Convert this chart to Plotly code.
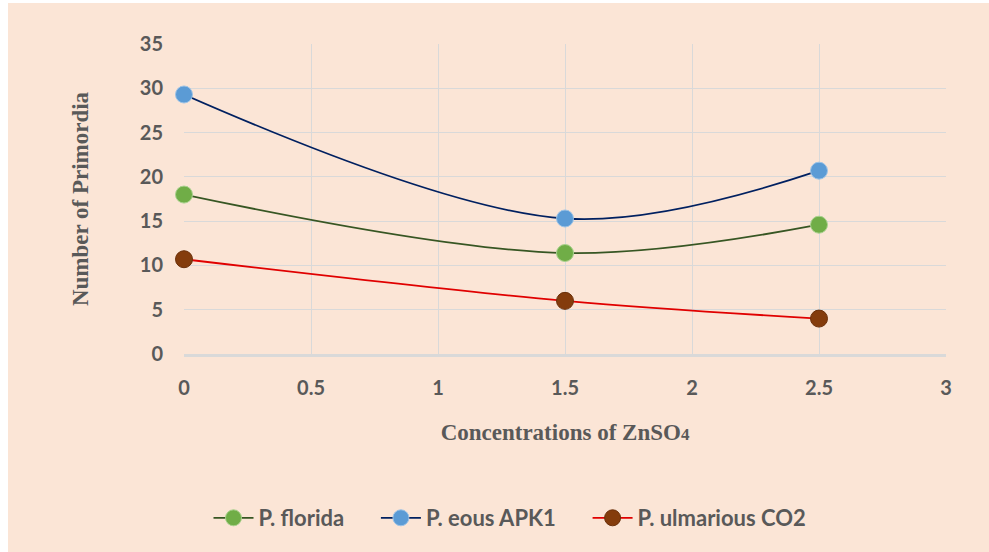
import plotly.graph_objects as go

x_vals = [0, 1.5, 2.5]
florida = [18.0, 11.4, 14.6]
eous = [29.3, 15.3, 20.7]
ulmarious = [10.7, 6.0, 4.0]

series_names = ["P. florida", "P. eous APK1", "P. ulmarious CO2"]
x_ticks = [0, 0.5, 1, 1.5, 2, 2.5, 3]
x_tick_labels = ["0", "0.5", "1", "1.5", "2", "2.5", "3"]
y_ticks = [0, 5, 10, 15, 20, 25, 30, 35]

W, H = 989, 552
L, R, T, B = 184, 43, 44, 198
PW, PH = W - L - R, H - T - B

line_colors = ["#375623", "#002060", "#E00000"]
marker_colors = ["#70AD47", "#5B9BD5", "#843C0C"]
marker_edges = ["#A9D18E", "#9DC3E6", "#6B300A"]

pad = "\u00a0" * 5

fig = go.Figure()
for i, (name, ys, lc, mc, me) in enumerate(zip(series_names, [florida, eous, ulmarious],
                                line_colors, marker_colors, marker_edges)):
    fig.add_trace(go.Scatter(
        x=x_vals, y=ys, name=name + (pad if i < 2 else ""), mode="lines+markers",
        line=dict(color=lc, width=1.8, shape="spline", smoothing=1.0),
        marker=dict(size=17, color=mc, line=dict(color=me, width=1)),
        cliponaxis=False,
    ))

txt = "#595959"
fig.update_layout(
    width=W, height=H,
    margin=dict(l=L, r=R, t=T, b=B, pad=0),
    paper_bgcolor="white",
    plot_bgcolor="rgba(0,0,0,0)",
    showlegend=True,
    legend=dict(orientation="h", x=(510 - L) / PW, xanchor="center",
                y=(H - B - 518) / PH, yanchor="middle",
                font=dict(family="Lato", size=22, color=txt, weight="bold"),
                itemwidth=40, traceorder="normal", bgcolor="rgba(0,0,0,0)"),
    xaxis=dict(range=[0, 3], tickvals=x_ticks, ticktext=x_tick_labels,
               showgrid=True, gridcolor="#D9D9D9", gridwidth=1,
               zeroline=False, showline=True, linecolor="#D9D9D9", linewidth=3,
               ticks="", ticklabelstandoff=14,
               tickfont=dict(family="Lato", size=20, color=txt, weight="bold"),
               title=dict(text='Concentrations of ZnSO<span style="font-size:17px">4</span>',
                          font=dict(family="Liberation Serif", size=23, color=txt, weight="bold"),
                          standoff=26)),
    yaxis=dict(range=[0, 35], tickvals=y_ticks,
               showgrid=True, gridcolor="#D9D9D9", gridwidth=1,
               zeroline=False, showline=False, ticks="", ticklabelstandoff=20,
               tickfont=dict(family="Lato", size=20, color=txt, weight="bold"),
               title=dict(text="Number of Primordia",
                          font=dict(family="Liberation Serif", size=23, color=txt, weight="bold"),
                          standoff=44)),
    shapes=[dict(type="rect", xref="paper", yref="paper", layer="below",
                 x0=(8 - L) / PW, x1=(W + 5 - L) / PW,
                 y0=(H - B - (H + 5)) / PH, y1=(H - B - 3) / PH,
                 fillcolor="#FBE5D6", line=dict(width=0))],
)

fig.write_html("out.html")
